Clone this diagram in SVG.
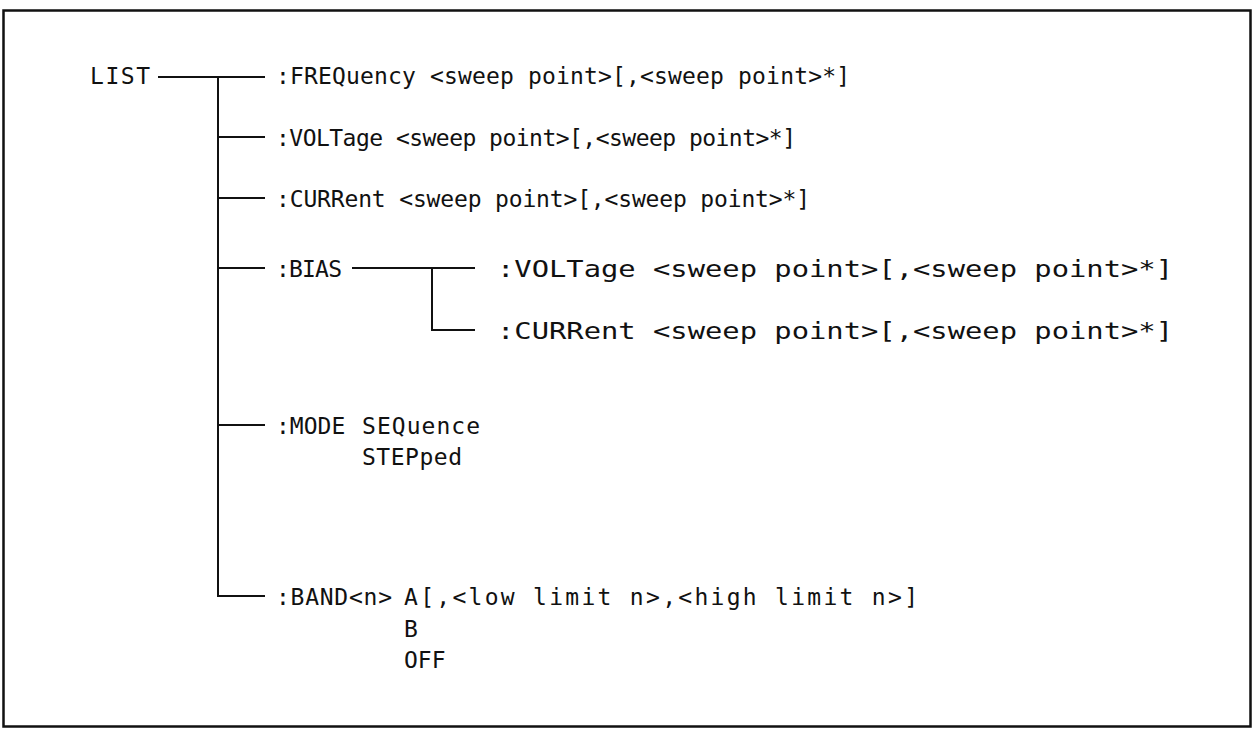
<svg xmlns="http://www.w3.org/2000/svg" width="1254" height="730" viewBox="0 0 1254 730">
<style>
.t{font-family:"DejaVu Sans Mono","Liberation Mono",monospace;font-size:23px;fill:#111}
.c{stroke:#111;stroke-width:2;fill:none}
</style>
<rect x="0" y="0" width="1254" height="730" fill="#fff"/>
<rect x="3.5" y="10.5" width="1247" height="716" fill="none" stroke="#111" stroke-width="2.5"/>
<g id="connectors" class="c">
<path d="M158 77H265M218 77V596H265"/>
<path d="M218 137H265M218 198H265M218 268H265M218 425H265"/>
<path d="M352 268H475M432 268V330H475"/>
</g>
<g id="list"><text class="t" x="90" y="84" textLength="60">LIST</text></g>
<g id="freq"><text class="t" x="276" y="84" textLength="574">:FREQuency &lt;sweep point&gt;[,&lt;sweep point&gt;*]</text></g>
<g id="volt"><text class="t" x="276" y="146" textLength="520">:VOLTage &lt;sweep point&gt;[,&lt;sweep point&gt;*]</text></g>
<g id="curr"><text class="t" x="276" y="207" textLength="534">:CURRent &lt;sweep point&gt;[,&lt;sweep point&gt;*]</text></g>
<g id="bias"><text class="t" x="276" y="277" textLength="66">:BIAS</text></g>
<g id="bias-volt"><text class="t" x="497" y="277" textLength="676" lengthAdjust="spacingAndGlyphs">:VOLTage &lt;sweep point&gt;[,&lt;sweep point&gt;*]</text></g>
<g id="bias-curr"><text class="t" x="497" y="339" textLength="676" lengthAdjust="spacingAndGlyphs">:CURRent &lt;sweep point&gt;[,&lt;sweep point&gt;*]</text></g>
<g id="mode"><text class="t" x="276" y="434">:MODE</text><text class="t" x="362" y="434" textLength="118">SEQuence</text><text class="t" x="362" y="465" textLength="100">STEPped</text></g>
<g id="band"><text class="t" x="276" y="605" textLength="116">:BAND&lt;n&gt;</text><text class="t" x="404" y="605" textLength="514">A[,&lt;low limit n&gt;,&lt;high limit n&gt;]</text><text class="t" x="404" y="637">B</text><text class="t" x="404" y="668">OFF</text></g>
</svg>
